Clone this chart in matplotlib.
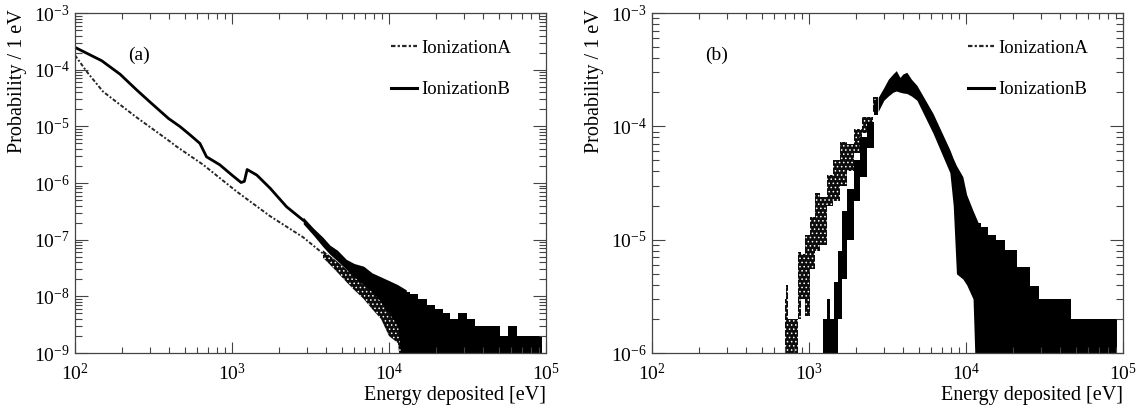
import numpy as np
import matplotlib.pyplot as plt
from matplotlib.lines import Line2D
from matplotlib.ticker import LogLocator, NullFormatter

plt.rcParams['font.family'] = ['Liberation Serif', 'DejaVu Serif']
plt.rcParams['mathtext.fontset'] = 'stix'
plt.rcParams['hatch.linewidth'] = 0.6

# ---------------- panel (a) : values ----------------
# smooth parts of the two spectra
a_A_energy = [100, 119, 151, 247, 403, 444, 656, 1070, 1750, 2845, 3800]
a_A_prob = [1.8e-4, 9.2e-5, 4.1e-5, 1.44e-5, 5.4e-6, 4.4e-6, 2.1e-6, 7.1e-7,
            2.6e-7, 1.1e-7, 5.7e-8]
a_B_energy = [100, 148, 194, 247, 300, 394, 467, 540, 625, 689, 836, 1000,
              1144, 1200, 1250, 1440, 1750, 2230, 2845]
a_B_prob = [2.48e-4, 1.44e-4, 8.3e-5, 4.4e-5, 2.7e-5, 1.38e-5, 9.9e-6, 7.1e-6,
            5.0e-6, 2.9e-6, 2.1e-6, 1.38e-6, 1.02e-6, 1.07e-6, 1.73e-6, 1.38e-6,
            8.1e-7, 3.8e-7, 2.2e-7]

# noisy parts: lower / upper envelope of the fluctuating bins
a_A_band_energy = [3800, 4500, 5350, 6000, 6900, 7800, 8900, 10000, 11400, 12900]
a_A_band_lo = [4.8e-8, 3.0e-8, 1.8e-8, 1.3e-8, 9e-9, 6e-9, 4e-9, 2e-9, 1.5e-9, 1e-10]
a_A_band_hi = [6.5e-8, 4.5e-8, 3.0e-8, 2.5e-8, 2.0e-8, 1.5e-8, 1.2e-8, 9e-9, 7e-9, 6e-9]

a_B_band_energy = [2845, 3300, 3800, 4210, 4700, 5350, 6000, 6900, 7800, 8900,
                   10000, 11400, 12900]
a_B_band_lo = [1.9e-7, 1.2e-7, 7.5e-8, 5.5e-8, 4.2e-8, 3.0e-8, 2.2e-8, 1.6e-8,
               1.2e-8, 8e-9, 5e-9, 3e-9, 1e-10]
a_B_band_hi = [2.5e-7, 1.6e-7, 1.1e-7, 8e-8, 6.5e-8, 4.5e-8, 3.8e-8, 3.4e-8,
               2.6e-8, 2.2e-8, 1.9e-8, 1.6e-8, 1.3e-8]

# tail: bins with 0..few counts, upper envelope only
a_tail_energy = [12900, 14400, 16300, 18500, 20700, 23200, 26000, 29400, 33000,
                 37700, 42500, 48000, 54000, 61000, 69000, 79000, 88000, 95000]
a_tail_hi = [1.2e-8, 1.1e-8, 9e-9, 7e-9, 6e-9, 5e-9, 4e-9, 5e-9, 4e-9, 3e-9,
             3e-9, 3e-9, 2e-9, 3e-9, 2e-9, 2e-9, 2e-9, 2e-9]

# ---------------- panel (b) ----------------
b_A_energy = [705, 721, 760, 800, 840, 855, 921, 967, 1067, 1120, 1230, 1360,
              1500, 1650, 1830, 2020, 2330, 2760]
b_A_lo = [1e-7, 1e-7, 1e-7, 1e-7, 1e-7, 2e-6, 3.0e-6, 2.1e-6, 5.5e-6, 8e-6,
          9e-6, 2.0e-5, 2.2e-5, 3.0e-5, 4.0e-5, 5.8e-5, 8.8e-5, 1.35e-4]
b_A_hi = [3e-6, 4e-6, 2e-6, 2e-6, 2e-6, 7.8e-6, 7.5e-6, 1.1e-5, 1.6e-5, 2.6e-5,
          2.4e-5, 3.7e-5, 5.0e-5, 7.3e-5, 7.0e-5, 9.5e-5, 1.2e-4, 1.8e-4]

b_B_energy = [1220, 1280, 1340, 1400, 1470, 1570, 1690, 1830, 2020, 2220, 2450, 2760]
b_B_lo = [1e-7, 1e-7, 1e-7, 1e-7, 1e-7, 2e-6, 4.5e-6, 1.0e-5, 2.2e-5, 3.6e-5,
          6.5e-5, 1.25e-4]
b_B_hi = [2e-6, 2e-6, 3e-6, 2e-6, 4.2e-6, 8e-6, 1.8e-5, 2.8e-5, 5.0e-5, 8.0e-5,
          1.1e-4, 1.7e-4]

b_peak_energy = [2760, 3000, 3200, 3430, 3600, 3800, 3970, 4200, 4500, 4870,
                 6170, 7900, 8300, 8700, 9550, 10100, 11100, 12000]
b_peak_lo = [1.35e-4, 1.7e-4, 1.85e-4, 2.0e-4, 2.05e-4, 2.0e-4, 1.97e-4, 1.95e-4,
             1.85e-4, 1.7e-4, 8.7e-5, 3.9e-5, 2e-5, 5e-6, 4.5e-6, 4e-6, 3e-6, 1e-7]
b_peak_hi = [1.8e-4, 2.2e-4, 2.6e-4, 2.9e-4, 3.1e-4, 2.7e-4, 2.9e-4, 3.0e-4,
             2.6e-4, 2.3e-4, 1.3e-4, 6.2e-5, 5.2e-5, 4.5e-5, 3.6e-5, 2.5e-5, 1.8e-5,
             1.4e-5]

b_tail_energy = [12000, 12900, 14800, 16500, 19000, 23000, 28000, 30000,
                 34300, 39000, 43900, 50000, 56000, 63000, 71000, 80000, 91000]
b_tail_hi = [1.4e-5, 1.3e-5, 1.1e-5, 1.0e-5, 8.1e-6, 5.7e-6, 3.9e-6, 3e-6,
             3e-6, 3e-6, 3e-6, 2e-6, 2e-6, 2e-6, 2e-6, 2e-6, 2e-6]

fig = plt.figure(figsize=(11.39, 4.08), dpi=100)
ax_a = fig.add_axes([0.0658, 0.1348, 0.4135, 0.8333])
ax_b = fig.add_axes([0.5724, 0.1348, 0.4135, 0.8333])

grey_a = '0.15'
dash_a = (0, (2, 1, 1, 1))
speckle = dict(facecolor='0.05', edgecolor='white', hatch='....', lw=0)

# panel (a)
ax_a.fill_between(a_A_band_energy, a_A_band_lo, a_A_band_hi, **speckle)
ax_a.fill_between(a_B_band_energy, a_B_band_lo, a_B_band_hi, color='black', lw=0)
ax_a.fill_between(a_tail_energy, 1e-10, a_tail_hi, step='mid', color='black', lw=0)
ax_a.plot(a_A_energy, a_A_prob, color=grey_a, lw=1.4, ls=dash_a)
ax_a.plot(a_B_energy, a_B_prob, color='black', lw=2.0)
ax_a.set_ylim(1e-9, 1e-3)

# panel (b)
ax_b.fill_between(b_A_energy, b_A_lo, b_A_hi, step='mid', **speckle)
ax_b.fill_between(b_B_energy, b_B_lo, b_B_hi, step='mid', color='black', lw=0)
ax_b.fill_between(b_peak_energy, b_peak_lo, b_peak_hi, color='black', lw=0)
ax_b.fill_between(b_tail_energy, 1e-7, b_tail_hi, step='mid', color='black', lw=0)
ax_b.set_ylim(1e-6, 1e-3)

handles = [Line2D([], [], color=grey_a, lw=1.6, ls=dash_a),
           Line2D([], [], color='black', lw=2.2)]
names = ['IonizationA', 'IonizationB']

for ax, tag in [(ax_a, '(a)'), (ax_b, '(b)')]:
    ax.set_xscale('log')
    ax.set_yscale('log')
    ax.set_xlim(1e2, 1e5)
    ax.xaxis.set_major_locator(LogLocator(base=10, numticks=20))
    ax.yaxis.set_major_locator(LogLocator(base=10, numticks=20))
    ax.xaxis.set_minor_locator(LogLocator(base=10, subs=np.arange(2, 10), numticks=40))
    ax.yaxis.set_minor_locator(LogLocator(base=10, subs=np.arange(2, 10), numticks=40))
    ax.xaxis.set_minor_formatter(NullFormatter())
    ax.yaxis.set_minor_formatter(NullFormatter())
    ax.tick_params(which='both', direction='in', top=True, right=True,
                   color='#444444', width=0.8, labelsize=14)
    ax.tick_params(axis='x', which='major', length=8, pad=7)
    ax.tick_params(axis='x', which='minor', length=4.3)
    ax.tick_params(axis='y', which='major', length=9.5, pad=3.5)
    ax.tick_params(axis='y', which='minor', length=5)
    for sp in ax.spines.values():
        sp.set_color('#444444')
        sp.set_linewidth(0.9)

    ax.set_ylabel('Probability / 1 eV', fontsize=14.5, loc='top')
    ax.yaxis.set_label_coords(-0.102, 1.01)
    ax.set_xlabel('Energy deposited [eV]', fontsize=14.5, loc='right')
    ax.xaxis.set_label_coords(1.0, -0.097)

    ax.text(0.1125, 0.876, tag, transform=ax.transAxes, fontsize=14,
            ha='left', va='center')
    ax.legend(handles, names, loc='upper left', bbox_to_anchor=(0.67, 0.922),
              frameon=False, fontsize=13.5, borderpad=0, borderaxespad=0,
              handlelength=1.4, handletextpad=0.25, labelspacing=1.3)

plt.savefig('out.png', dpi=100)
plt.close()
